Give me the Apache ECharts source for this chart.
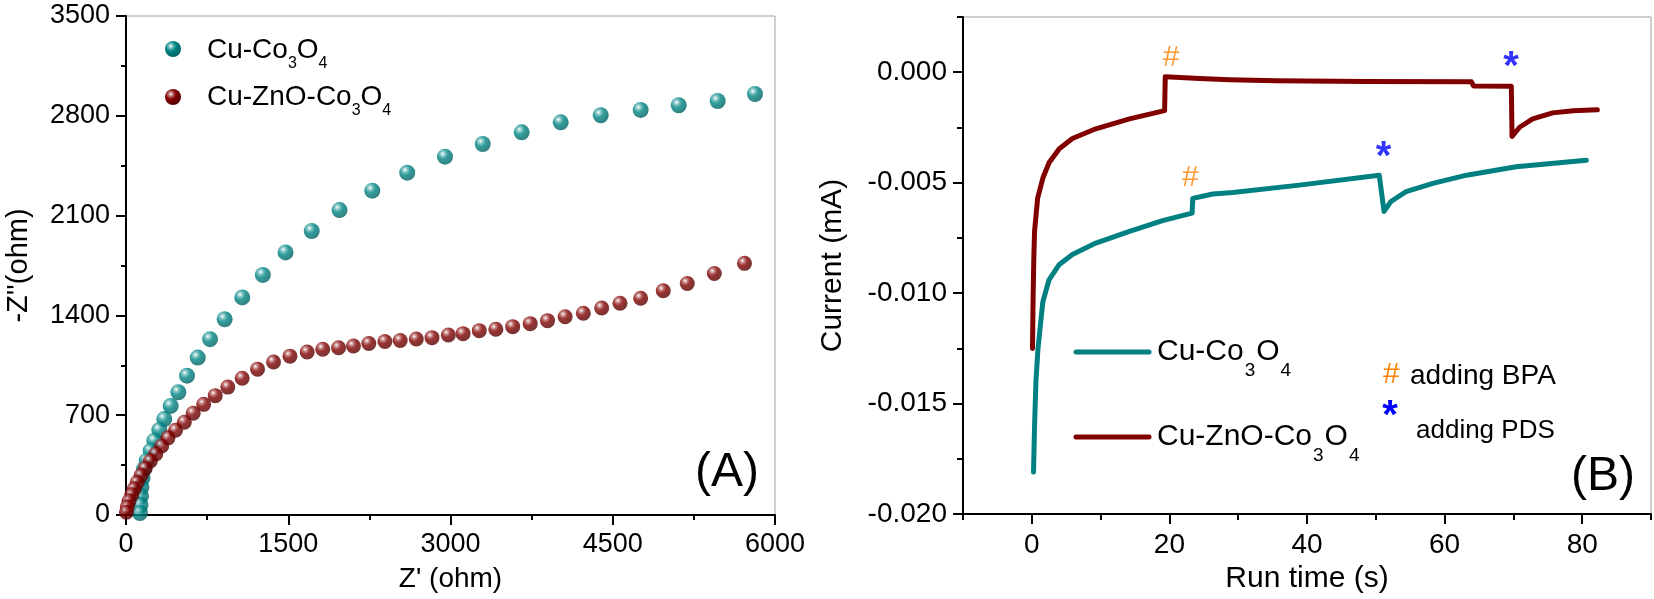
<!DOCTYPE html>
<html>
<head>
<meta charset="utf-8">
<script src="https://cdn.jsdelivr.net/npm/echarts@6.0.0/dist/echarts.min.js"></script>
<style>
html,body{margin:0;padding:0;background:#fff;}
#c{width:1654px;height:599px;}
</style>
</head>
<body>
<div id="c"></div>
<script>
// ---------- Panel A: Nyquist data (Z' , -Z'') ----------
const tealZre = [5815,5470,5110,4758,4389,4019,3658,3298,2949,2600,2277,1974,1717,1475,1265,1075,912,777,663,564,484,413,354,308,262,228,191,166,153,143,139,134,129];
const tealZim = [2953,2904,2874,2841,2804,2754,2684,2602,2513,2401,2275,2139,1992,1842,1684,1526,1373,1233,1104,977,861,765,673,596,521,451,381,323,260,196,133,70,14];
const redZre = [5718,5439,5189,4967,4758,4567,4398,4228,4060,3897,3737,3575,3419,3266,3116,2980,2829,2684,2535,2394,2245,2103,1965,1819,1675,1516,1364,1216,1074,941,825,718,621,539,458,388,330,275,225,178,139,104,77,53,28,12,4];
const redZim = [1765,1694,1624,1573,1520,1485,1452,1415,1391,1363,1342,1321,1303,1293,1272,1263,1244,1234,1224,1217,1203,1185,1173,1163,1143,1114,1073,1023,959,897,837,776,714,651,594,541,484,428,379,327,278,229,184,142,98,56,19];

// ---------- Panel B: current vs run time ----------
const tealTime = [0.25,0.4,0.6,0.9,1.3,1.6,2.5,4.0,5.9,9.3,14.2,19.0,23.3,23.4,26.3,29.2,38.9,50.5,51.2,52.2,54.4,58.3,63.2,70.4,80.6];
const tealCurrent = [-0.0181,-0.0160,-0.0140,-0.0125,-0.0113,-0.0104,-0.0094,-0.0087,-0.00825,-0.00773,-0.0072,-0.00672,-0.00638,-0.00571,-0.00551,-0.00544,-0.00511,-0.00466,-0.0063,-0.00585,-0.0054,-0.00503,-0.00466,-0.00428,-0.00398];
const redTime = [0.1,0.15,0.2,0.3,0.4,0.85,1.6,2.5,4.0,5.9,9.3,14.2,19.3,19.4,24.4,28.7,35.5,48.6,63.9,64.2,69.7,69.8,70.9,72.8,75.7,78.7,82.2];
const redCurrent = [-0.0125,-0.0112,-0.0100,-0.0083,-0.0072,-0.0057,-0.0048,-0.0041,-0.00346,-0.0030,-0.00256,-0.00211,-0.00174,-0.0002,-0.00028,-0.00034,-0.00039,-0.00042,-0.00043,-0.00062,-0.00064,-0.00291,-0.00249,-0.00211,-0.00184,-0.00174,-0.0017];

// annotation marks (time, current)
const bpaMarks = [[20.25,0.00066],[23.05,-0.00477]];
const pdsMarks = [[69.64,0.00053],[51.13,-0.00356]];

// axis ticks
const aYTicks = [0,700,1400,2100,2800,3500];
const aXTicks = [0,1500,3000,4500,6000];
const bXLabels = [0,20,40,60,80];
const bXMinor = [-10,10,30,50,70,90];
const bYLabels = [-0.020,-0.015,-0.010,-0.005,0.000];
const bYMinor = [-0.0175,-0.0125,-0.0075,-0.0025,0.0025];

const FONT = 'Liberation Sans, Arial, sans-serif';
const TEAL = '#008080', RED = '#800000';

function zip(a,b){ return a.map((v,i)=>[v,b[i]]); }
function sphere(light, base, dark){
  return new echarts.graphic.RadialGradient(0.36,0.32,0.72,[
    {offset:0,color:'#ffffff'},{offset:0.2,color:light},{offset:0.45,color:base},{offset:1,color:dark}]);
}
const tealBall = sphere('#6fbcbc','#008585','#005e5e');
const redBall = sphere('#b86a6a','#820000','#520000');

const axisBlack = {onZero:false,lineStyle:{color:'#000',width:2}};
const noLine = {show:false,onZero:false};
const tickStyle = {lineStyle:{color:'#000',width:2}};
const plain = v => String(v);

const chart = echarts.init(document.getElementById('c'), null, {renderer:'canvas'});

const richA = {
  m:{fontSize:28,lineHeight:28,verticalAlign:'top',fontFamily:FONT,color:'#000'},
  s:{fontSize:16,lineHeight:18,padding:[20,0,0,0],verticalAlign:'top',fontFamily:FONT,color:'#000'}
};
const richB = {
  m:{fontSize:30,lineHeight:30,verticalAlign:'top',fontFamily:FONT,color:'#000'},
  s:{fontSize:19,lineHeight:19,padding:[24,1,0,1],verticalAlign:'top',fontFamily:FONT,color:'#000'}
};

const option = {
  animation:false,
  backgroundColor:'#fff',
  textStyle:{fontFamily:FONT},
  grid:[
    {left:126,top:16,width:649,height:499,show:true,borderColor:'#a0a0a0',borderWidth:1,containLabel:false},
    {left:963,top:17,width:688,height:502,show:true,borderColor:'#a0a0a0',borderWidth:1,containLabel:false}
  ],
  xAxis:[
    {gridIndex:0,type:'value',min:0,max:6000,interval:1500,
     axisLine:axisBlack,axisTick:Object.assign({length:10},tickStyle),
     minorTick:{show:true,splitNumber:2,length:5,lineStyle:{color:'#000',width:2}},
     splitLine:{show:false},
     axisLabel:{fontSize:27,color:'#000',margin:16,fontFamily:FONT,customValues:aXTicks,formatter:plain},
     name:"Z' (ohm)",nameLocation:'middle',nameGap:50,
     nameTextStyle:{fontSize:28,color:'#000',fontFamily:FONT}},
    {gridIndex:1,type:'value',min:-10,max:90,interval:10,
     axisLine:axisBlack,axisTick:Object.assign({length:10,customValues:bXLabels},tickStyle),
     splitLine:{show:false},
     axisLabel:{fontSize:28,color:'#000',margin:17,fontFamily:FONT,customValues:bXLabels,formatter:plain},
     name:'Run time (s)',nameLocation:'middle',nameGap:46,
     nameTextStyle:{fontSize:30,color:'#000',fontFamily:FONT}},
    {gridIndex:1,type:'value',min:-10,max:90,interval:10,position:'bottom',
     axisLine:noLine,axisTick:Object.assign({length:6,customValues:bXMinor},tickStyle),
     splitLine:{show:false},axisLabel:{show:false}}
  ],
  yAxis:[
    {gridIndex:0,type:'value',min:0,max:3500,interval:700,
     axisLine:axisBlack,axisTick:Object.assign({length:10},tickStyle),
     minorTick:{show:true,splitNumber:2,length:5,lineStyle:{color:'#000',width:2}},
     splitLine:{show:false},
     axisLabel:{fontSize:27,color:'#000',margin:16,fontFamily:FONT,customValues:aYTicks,formatter:plain},
     name:"-Z''(ohm)",nameLocation:'middle',nameGap:93,
     nameTextStyle:{fontSize:29,color:'#000',fontFamily:FONT}},
    {gridIndex:1,type:'value',min:-0.020,max:0.0025,
     axisLine:axisBlack,axisTick:Object.assign({length:10,customValues:bYLabels},tickStyle),
     splitLine:{show:false},
     axisLabel:{fontSize:28,color:'#000',margin:16,fontFamily:FONT,customValues:bYLabels,
       formatter:v=>Number(v).toFixed(3)},
     name:'Current (mA)',nameLocation:'middle',nameGap:115,
     nameTextStyle:{fontSize:30,color:'#000',fontFamily:FONT}},
    {gridIndex:1,type:'value',min:-0.020,max:0.0025,position:'left',
     axisLine:noLine,axisTick:Object.assign({length:6,customValues:bYMinor},tickStyle),
     splitLine:{show:false},axisLabel:{show:false}}
  ],
  series:[
    {name:'Cu-Co3O4',type:'scatter',xAxisIndex:0,yAxisIndex:0,data:zip(tealZre,tealZim),
     symbol:'circle',symbolSize:16,clip:false,itemStyle:{color:tealBall},silent:true,z:2},
    {name:'Cu-ZnO-Co3O4',type:'scatter',xAxisIndex:0,yAxisIndex:0,data:zip(redZre,redZim),
     symbol:'circle',symbolSize:15,clip:false,itemStyle:{color:redBall},silent:true,z:3},
    {name:'Cu-Co3O4 (B)',type:'line',xAxisIndex:1,yAxisIndex:1,data:zip(tealTime,tealCurrent),
     showSymbol:false,symbol:'none',lineStyle:{color:TEAL,width:5,cap:'round',join:'round'},silent:true},
    {name:'Cu-ZnO-Co3O4 (B)',type:'line',xAxisIndex:1,yAxisIndex:1,data:zip(redTime,redCurrent),
     showSymbol:false,symbol:'none',lineStyle:{color:RED,width:5,cap:'round',join:'round'},silent:true},
    {name:'BPA',type:'scatter',xAxisIndex:1,yAxisIndex:1,data:bpaMarks,symbolSize:1,
     itemStyle:{color:'rgba(0,0,0,0)'},silent:true,
     label:{show:true,position:'inside',formatter:'#',fontSize:30,color:'#FF8000',fontFamily:FONT}},
    {name:'PDS',type:'scatter',xAxisIndex:1,yAxisIndex:1,data:pdsMarks,symbolSize:1,
     itemStyle:{color:'rgba(0,0,0,0)'},silent:true,
     label:{show:true,position:'inside',formatter:'*',fontSize:40,fontWeight:'bold',color:'#0000FF',
       fontFamily:FONT,offset:[0,7]}}
  ],
  graphic:[
    // legend A
    {type:'circle',shape:{cx:173,cy:49,r:8},style:{fill:tealBall},silent:true},
    {type:'circle',shape:{cx:173,cy:97,r:8},style:{fill:redBall},silent:true},
    {type:'text',x:207,y:36,style:{text:'{m|Cu-Co}{s|3}{m|O}{s|4}',rich:richA,verticalAlign:'top'},silent:true},
    {type:'text',x:207,y:83,style:{text:'{m|Cu-ZnO-Co}{s|3}{m|O}{s|4}',rich:richA,verticalAlign:'top'},silent:true},
    {type:'text',x:727,y:473,style:{text:'(A)',fontSize:48,fontFamily:FONT,fill:'#000',align:'center',verticalAlign:'middle'},silent:true},
    // legend B
    {type:'line',shape:{x1:1076,y1:352,x2:1149,y2:352},style:{stroke:TEAL,lineWidth:5,lineCap:'round'},silent:true},
    {type:'line',shape:{x1:1076,y1:437,x2:1149,y2:437},style:{stroke:RED,lineWidth:5,lineCap:'round'},silent:true},
    {type:'text',x:1157,y:337,style:{text:'{m|Cu-Co}{s|3}{m|O}{s|4}',rich:richB,verticalAlign:'top'},silent:true},
    {type:'text',x:1157,y:422,style:{text:'{m|Cu-ZnO-Co}{s|3}{m|O}{s|4}',rich:richB,verticalAlign:'top'},silent:true},
    {type:'text',x:1383,y:375,style:{text:'#',fontSize:30,fill:'#FF8000',fontFamily:FONT,verticalAlign:'middle'},silent:true},
    {type:'text',x:1410,y:376,style:{text:'adding BPA',fontSize:28,fill:'#000',fontFamily:FONT,verticalAlign:'middle'},silent:true},
    {type:'text',x:1390,y:417,style:{text:'*',fontSize:40,fontWeight:'bold',fill:'#0000FF',fontFamily:FONT,align:'center',verticalAlign:'middle'},silent:true},
    {type:'text',x:1416,y:431,style:{text:'adding PDS',fontSize:26,fill:'#000',fontFamily:FONT,verticalAlign:'middle'},silent:true},
    {type:'text',x:1603,y:477,style:{text:'(B)',fontSize:48,fontFamily:FONT,fill:'#000',align:'center',verticalAlign:'middle'},silent:true}
  ]
};
chart.setOption(option);
</script>
</body>
</html>
